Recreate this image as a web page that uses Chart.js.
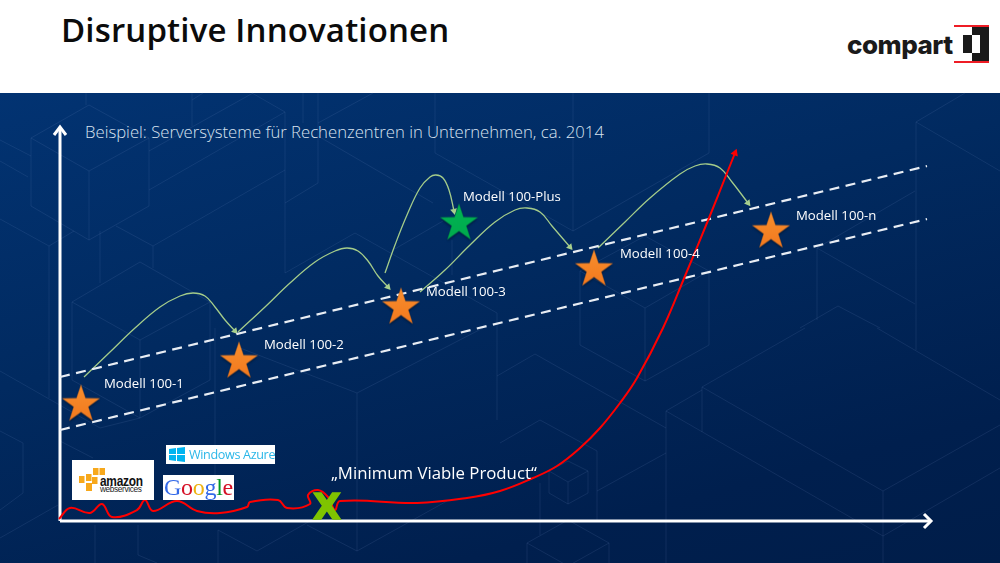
<!DOCTYPE html>
<html lang="de">
<head>
<meta charset="utf-8">
<title>Disruptive Innovationen</title>
<script src="https://cdn.jsdelivr.net/npm/chart.js@4"></script>
<style>
  html, body { margin: 0; padding: 0; background: #fff; }
  #page { position: relative; width: 1000px; height: 563px; overflow: hidden; font-family: "Open Sans", sans-serif; }
  #title { position: absolute; left: 61px; top: 7px; font-size: 33px; font-weight: 600; color: #0b0b0b; letter-spacing: 0.15px; white-space: nowrap; }
  #panel { position: absolute; left: 0; top: 93px; width: 1000px; height: 470px; background: linear-gradient(165deg, #023372 0%, #012a60 40%, #001f4e 80%, #001d49 100%); }
  #bg { position: absolute; left: 0; top: 0; }
  #bg polyline { fill: none; stroke: #6f8fc4; stroke-opacity: .15; stroke-width: 1; }
  #chart { position: absolute; left: 0; top: 0; }
  #subtitle { position: absolute; left: 85px; top: 120px; font-size: 16.7px; font-weight: 300; color: #dbe5f2; white-space: nowrap; opacity: .99; }
  .logo { position: absolute; background: #fff; overflow: hidden; white-space: nowrap; }
  #compart { position: absolute; left: 847px; top: 29px; font: 800 26px "Inter", sans-serif; letter-spacing: -0.5px; color: #1a1a1a; }
</style>
</head>
<body>
<div id="page">
  <div id="title">Disruptive Innovationen</div>

  <div id="compart">compart</div>
  <svg style="position:absolute;left:950px;top:20px" width="45" height="48">
    <rect x="4" y="5" width="35" height="2" fill="#ee1c25"/>
    <rect x="4" y="41" width="35" height="2" fill="#ee1c25"/>
    <rect x="22" y="7" width="17" height="8" fill="#1a1a1a"/>
    <rect x="30" y="15" width="9" height="18" fill="#1a1a1a"/>
    <rect x="22" y="33" width="17" height="8" fill="#1a1a1a"/>
    <rect x="13" y="15" width="9" height="18" fill="#1a1a1a"/>
  </svg>

  <div id="panel"></div>
  <svg id="bg" width="1000" height="563">
    <polyline points="31,138 89,105 149,138 89,171 31,138"/>
    <polyline points="89,171 89,240"/>
    <polyline points="31,138 31,206 89,240 149,206 149,138"/>
    <polyline points="0,140 31,156"/>
    <polyline points="0,161 28,177"/>
    <polyline points="0,219 49,246 74,231"/>
    <polyline points="49,246 49,398"/>
    <polyline points="149,151 253,93"/>
    <polyline points="86,93 86,105"/>
    <polyline points="192,93 192,126"/>
    <polyline points="192,100 203,93"/>
    <polyline points="252,93 285,112 149,190"/>
    <polyline points="285,170 153,246 116,226"/>
    <polyline points="285,112 285,273"/>
    <polyline points="153,246 153,268"/>
    <polyline points="100,231 100,283"/>
    <polyline points="72,302 140,262 210,302 140,340 72,302"/>
    <polyline points="72,302 72,380 140,418 210,380 210,302"/>
    <polyline points="140,340 140,418"/>
    <polyline points="318,93 318,183 285,203"/>
    <polyline points="303,93 303,123"/>
    <polyline points="318,123 373,93"/>
    <polyline points="318,136 433,203"/>
    <polyline points="435,93 435,153 573,231"/>
    <polyline points="573,93 573,231 709,153 709,93"/>
    <polyline points="285,273 355,233 497,313 497,420"/>
    <polyline points="452,240 452,275"/>
    <polyline points="393,250 443,221"/>
    <polyline points="497,376 535,354 666,428"/>
    <polyline points="580,271 645,236 709,271 645,308 580,271"/>
    <polyline points="645,308 645,381"/>
    <polyline points="580,271 580,345 645,381 709,345 709,271"/>
    <polyline points="965,93 916,122 1000,171"/>
    <polyline points="916,122 916,350"/>
    <polyline points="877,328 1000,400"/>
    <polyline points="915,191 817,248 915,304"/>
    <polyline points="817,248 817,320"/>
    <polyline points="800,328 838,306 880,328"/>
    <polyline points="805,328 702,387 883,491 1000,425"/>
    <polyline points="702,387 702,432"/>
    <polyline points="702,390 666,411 883,536 1000,468"/>
    <polyline points="883,491 883,563"/>
    <polyline points="666,411 666,563"/>
    <polyline points="597,491 666,453"/>
    <polyline points="500,443 540,420 597,451 597,520"/>
    <polyline points="549,471 568,461 588,471 568,482 549,471"/>
    <polyline points="568,482 568,504"/>
    <polyline points="549,471 549,493 568,504 588,493 588,471"/>
    <polyline points="527,563 527,543 568,520 609,543 609,563"/>
    <polyline points="527,543 568,566 609,543"/>
    <polyline points="540,483 540,535"/>
    <polyline points="0,371 100,428 140,418"/>
    <polyline points="0,431 23,443 23,493 0,510"/>
    <polyline points="60,441 93,458"/>
    <polyline points="0,538 58,505"/>
    <polyline points="95,525 95,563"/>
    <polyline points="138,525 138,555 157,563"/>
    <polyline points="240,348 357,393 483,328"/>
    <polyline points="357,393 357,551 447,501"/>
    <polyline points="215,328 215,500"/>
    <polyline points="218,530 218,563"/>
    <polyline points="218,530 257,551 333,508"/>
    <polyline points="307,525 357,551"/>
  </svg>

  <div id="subtitle">Beispiel: Serversysteme für Rechenzentren in Unternehmen, ca. 2014</div>
  <canvas id="chart" width="1000" height="563"></canvas>

  <div class="logo" style="left:72px;top:460px;width:82px;height:40px">
    <svg style="position:absolute;left:7px;top:8px" width="27" height="24">
      <g fill="#f7a81b">
        <rect x="14" y="0" width="5.5" height="7"/><rect x="20.5" y="0" width="5.5" height="7"/>
        <rect x="7" y="6" width="5.5" height="7"/><rect x="0" y="8" width="5.5" height="7"/>
        <rect x="13" y="9" width="5.5" height="7"/><rect x="7" y="15" width="6" height="8"/>
      </g>
    </svg>
    <div style="position:absolute;left:28px;top:13px;font:bold 14px 'Liberation Sans',sans-serif;color:#111;letter-spacing:-.3px;line-height:16px;transform:scaleX(.85);transform-origin:left">amazon</div>
    <div style="position:absolute;left:28px;top:25px;font:9px 'Liberation Sans',sans-serif;color:#222;letter-spacing:-.4px;line-height:9px;transform:scaleX(.92);transform-origin:left">webservices</div>
  </div>
  <div class="logo" style="left:163px;top:475px;width:71px;height:25px;font:24px 'Liberation Serif',serif;line-height:24px;text-align:center;letter-spacing:-.3px">
    <span style="color:#3369e8">G</span><span style="color:#d50f25">o</span><span style="color:#eeb211">o</span><span style="color:#3369e8">g</span><span style="color:#009925">l</span><span style="color:#d50f25">e</span>
  </div>
  <div class="logo" style="left:166px;top:445px;width:109px;height:19px">
    <svg style="position:absolute;left:3px;top:2px" width="16" height="15">
      <polygon points="0,2 7,1 7,7 0,7" fill="#00b4f0"/><polygon points="8,1 16,0 16,7 8,7" fill="#00b4f0"/>
      <polygon points="0,8 7,8 7,14 0,13" fill="#00b4f0"/><polygon points="8,8 16,8 16,15 8,14" fill="#00b4f0"/>
    </svg>
    <div style="position:absolute;left:23px;top:0;font:12.6px 'Open Sans',sans-serif;line-height:19px;color:#2ab7e8;letter-spacing:-.35px">Windows Azure</div>
  </div>
</div>

<script>
// Model stars
const starX = [21, 179, 341, 534, 711];
const starY = [116.5, 159.5, 213.5, 251.5, 289.5];
const plusX = [399];
const plusY = [297.5];

// Texts in the plot
const labelTexts = ["Modell 100-1", "Modell 100-2", "Modell 100-3", "Modell 100-Plus", "Modell 100-4", "Modell 100-n"];
const labelX = [44, 204, 366, 403, 560, 736];
const labelY = [137, 176, 229, 324, 267, 305];

// Trend corridor (dashed)
const bandX = [0, 867];
const upperY = [144, 355];
const lowerY = [91, 302];

// Axes
const xAxisX = [0, 870];
const xAxisY = [0, 0];
const yAxisX = [0, 0];
const yAxisY = [0, 393];

// Sustaining jumps, green
const jumpX = [
  [24, 50, 75, 100, 120, 133, 145, 155, 165, 175],
  [178, 205, 230, 255, 275, 287, 298, 308, 318, 328],
  [325, 335, 347, 360, 370, 376, 383, 389, 394],
  [360, 385, 410, 435, 455, 467, 480, 492, 510],
  [538, 565, 590, 620, 635, 647, 660, 672, 688]
];
const jumpY = [
  [144, 169, 193, 214, 225, 228, 225, 214, 201, 190],
  [189, 214, 238, 259, 270, 273, 270, 260, 245, 234],
  [248, 276, 306, 333, 344, 346, 343, 331, 310],
  [229, 251, 276, 299, 311, 313, 309, 295, 274],
  [273, 299, 323, 347, 355, 357, 353, 339, 318]
];

// Disruptive product, red
const redX = [-1, 10, 30, 42, 52, 77, 85, 93, 117, 137, 160, 187, 190, 218, 227, 250, 248, 258, 268, 275, 280, 357, 407, 440, 473, 497, 520, 540, 560, 577, 603, 625, 649, 667, 675];
const redY = [2, 13, 8, 17, 4, 11, 21, 10, 20, 10, 8, 14, 19, 21, 13, 17, 26, 31, 24, 11, 20, 18, 23, 30, 43, 55, 73, 93, 118, 143, 193, 245, 303, 348, 368];

const xy = (xs, ys) => xs.map((x, i) => ({ x, y: ys[i] }));
const heading = (xs, ys) => {
  const n = xs.length - 1;
  return Math.atan2(xs[n] - xs[n - 1], ys[n] - ys[n - 1]) * 180 / Math.PI;
};

// Filled five pointed star used as point image
function makeStar(top, bottom, edge) {
  const size = 52, c = document.createElement("canvas");
  c.width = c.height = size;
  const g = c.getContext("2d");
  g.beginPath();
  for (let i = 0; i < 10; i++) {
    const r = i % 2 ? 7.6 : 19.5, a = -Math.PI / 2 + i * Math.PI / 5;
    g.lineTo(size / 2 + r * Math.cos(a), size / 2 + r * Math.sin(a));
  }
  g.closePath();
  const fill = g.createLinearGradient(0, 6, 0, 46);
  fill.addColorStop(0, top);
  fill.addColorStop(1, bottom);
  g.shadowColor = "rgba(0,0,0,.3)";
  g.shadowBlur = 2;
  g.shadowOffsetY = 2;
  g.fillStyle = fill;
  g.fill();
  g.shadowColor = "transparent";
  g.strokeStyle = edge;
  g.lineWidth = 0.4;
  g.stroke();
  return c;
}

const line = (xs, ys, color, width, extra) => Object.assign({
  data: xy(xs, ys),
  showLine: true,
  borderColor: color,
  borderWidth: width,
  pointRadius: 0,
  tension: 0
}, extra);

// Arrow head at the end of a curve
const head = (xs, ys, color, size) => ({
  data: [{ x: xs[xs.length - 1], y: ys[ys.length - 1] }],
  showLine: false,
  pointStyle: "triangle",
  pointRadius: size,
  pointRotation: heading(xs, ys),
  backgroundColor: color,
  borderColor: color,
  borderWidth: 0
});

const datasets = [
  { data: xy(starX, starY), showLine: false, pointStyle: makeStar("#f78f2e", "#f2761c", "#d0691c") },
  { data: xy(plusX, plusY), showLine: false, pointStyle: makeStar("#00b553", "#00a84c", "#008a40") },
  line(redX, redY, "#ff0000", 2, { tension: 0.4 }),
  head(redX, redY, "#ff0000", 4.5),
  line(bandX, upperY, "#e8edf4", 2.2, { borderDash: [10, 6.5] }),
  line(bandX, lowerY, "#e8edf4", 2.2, { borderDash: [10, 6.5] }),
  line(xAxisX, xAxisY, "#ffffff", 3),
  line(yAxisX, yAxisY, "#ffffff", 3),
  // open arrow tips of the two axes
  line([864, 871, 864], [7, 0, -7], "#ffffff", 3),
  line([-6, 0, 6], [386, 394, 386], "#ffffff", 3)
];
jumpX.forEach((xs, i) => {
  datasets.push(line(xs, jumpY[i], "#a4cc8a", 1.3, { tension: 0.4 }));
  datasets.push(head(xs, jumpY[i], "#a9d18e", 4));
});

// Labels written at data positions
const labelPlugin = {
  id: "labels",
  afterDatasetsDraw(chart) {
    const { ctx, scales } = chart;
    ctx.save();
    ctx.textBaseline = "middle";
    ctx.fillStyle = "#ffffff";
    ctx.font = "13.2px 'Open Sans'";
    labelTexts.forEach((t, i) => {
      ctx.fillText(t, scales.x.getPixelForValue(labelX[i]), scales.y.getPixelForValue(labelY[i]));
    });
    ctx.font = "16.8px 'Open Sans'";
    ctx.fillText("„Minimum Viable Product“", scales.x.getPixelForValue(271), scales.y.getPixelForValue(47));
    ctx.fillStyle = "#7fc400";
    ctx.strokeStyle = "#7fc400";
    ctx.lineWidth = 1.6;
    ctx.font = "bold 36px 'DejaVu Sans'";
    ctx.textAlign = "center";
    ctx.fillText("X", scales.x.getPixelForValue(267), scales.y.getPixelForValue(11));
    ctx.strokeText("X", scales.x.getPixelForValue(267), scales.y.getPixelForValue(11));
    ctx.restore();
  }
};

new Chart(document.getElementById("chart"), {
  type: "scatter",
  data: { datasets },
  plugins: [labelPlugin],
  options: {
    responsive: false,
    animation: false,
    layout: { padding: 0, autoPadding: false },
    plugins: { legend: { display: false }, tooltip: { enabled: false } },
    scales: {
      x: { type: "linear", display: false, min: -60, max: 940 },
      y: { type: "linear", display: false, min: -42, max: 521 }
    }
  }
});
</script>
</body>
</html>
